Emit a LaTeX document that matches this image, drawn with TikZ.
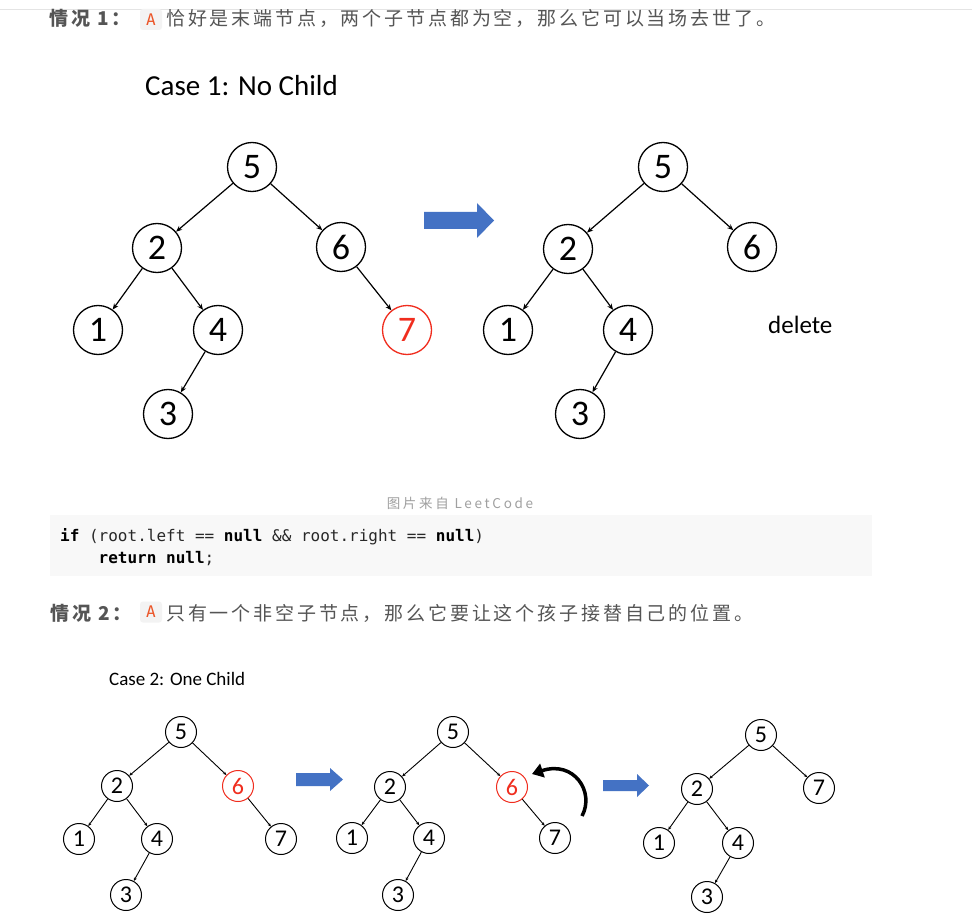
\documentclass[tikz,border=0pt]{standalone}
\usepackage{fontspec}
\setmainfont{Carlito}
\setmonofont{DejaVu Sans Mono}
\newfontfamily\cjk{Noto Sans CJK SC}[LetterSpace=15]
\newfontfamily\cjkcap{Noto Sans CJK SC}[LetterSpace=20]
\usetikzlibrary{arrows.meta}
\definecolor{nodered}{RGB}{240,45,30}
\definecolor{arrowblue}{RGB}{68,114,196}
\definecolor{headgray}{RGB}{85,85,85}
\definecolor{capgray}{RGB}{160,160,160}
\definecolor{codebg}{RGB}{248,248,248}
\definecolor{codefg}{RGB}{40,40,40}
\definecolor{tagred}{RGB}{235,85,40}
\definecolor{tagbg}{RGB}{243,243,243}
\definecolor{rulegray}{RGB}{228,228,228}
\begin{document}
\begin{tikzpicture}[x=1pt,y=-1pt,
  bignode/.style={circle,draw,line width=1.3pt,minimum size=49pt,inner sep=0pt,font=\fontsize{36}{36}\selectfont},
  smallnode/.style={circle,draw,line width=1pt,minimum size=31pt,inner sep=0pt,font=\fontsize{24}{24}\selectfont},
  rednode/.style={draw=nodered,text=nodered},
  bigedge/.style={line width=1.2pt,-{Stealth[length=6pt,width=5pt]}},
  smalledge/.style={line width=0.9pt,-{Stealth[length=3.5pt,width=3pt]}},
  blockarrow/.style={fill=arrowblue,draw=none},
  headtext/.style={anchor=base west,inner sep=0pt,text=headgray,font=\cjk\fontsize{19}{19}\selectfont},
  tag/.style={fill=tagbg,rounded corners=3pt,minimum width=22pt,minimum height=21pt,inner sep=0pt,text=tagred,font=\ttfamily\fontsize{16}{16}\selectfont},
  codetext/.style={anchor=base west,inner sep=0pt,text=codefg,font=\ttfamily\fontsize{16}{16}\selectfont},
  figtitle/.style={anchor=base west,inner sep=0pt,text=black}
]
\useasboundingbox (0,0) rectangle (972,920);
\fill[white] (0,0) rectangle (972,920);
\draw[rulegray,line width=1pt] (0,10) -- (972,10);

% ---------- header 1 ----------
\node[headtext] (h1a) at (49,26) {\bfseries 情况 1：};
\node[tag] (tag1) at (151,19.5) {A};
\node[headtext] (h1b) at (166,26) {恰好是末端节点，两个子节点都为空，那么它可以当场去世了。};

% ---------- case 1 ----------
\node[figtitle,font=\fontsize{29}{29}\selectfont] (t1) at (145,96) {Case 1: No Child};

\node[bignode] (a5) at (252,167) {5};
\node[bignode] (a2) at (157,248) {2};
\node[bignode] (a6) at (341,247) {6};
\node[bignode] (a1) at (98,330) {1};
\node[bignode] (a4) at (218,330) {4};
\node[bignode,rednode] (a7) at (407,330) {7};
\node[bignode] (a3) at (168,414) {3};
\draw[bigedge] (a5) -- (a2);
\draw[bigedge] (a5) -- (a6);
\draw[bigedge] (a2) -- (a1);
\draw[bigedge] (a2) -- (a4);
\draw[bigedge] (a6) -- (a7);
\draw[bigedge] (a4) -- (a3);

\fill[blockarrow] (424,212) -- (477,212) -- (477,203) -- (494,220.5) -- (477,238) -- (477,229) -- (424,229) -- cycle;

\node[bignode] (b5) at (663,167) {5};
\node[bignode] (b2) at (568,249) {2};
\node[bignode] (b6) at (752,247) {6};
\node[bignode] (b1) at (508,330) {1};
\node[bignode] (b4) at (628,330) {4};
\node[bignode] (b3) at (580,414) {3};
\draw[bigedge] (b5) -- (b2);
\draw[bigedge] (b5) -- (b6);
\draw[bigedge] (b2) -- (b1);
\draw[bigedge] (b2) -- (b4);
\draw[bigedge] (b4) -- (b3);
\node[figtitle,font=\fontsize{25}{25}\selectfont] (del) at (768,333) {delete};

\node[anchor=base,inner sep=0pt,text=capgray,font=\cjkcap\fontsize{13.5}{13.5}\selectfont] (cap) at (460,508) {图片来自 LeetCode};

% ---------- code ----------
\fill[codebg] (50,515) rectangle (872,576);
\node[codetext] (c1) at (60,541) {\textbf{\color{black}if} (root.left == \textbf{\color{black}null} \&\& root.right == \textbf{\color{black}null})};
\node[codetext] (c2) at (98.5,563) {\textbf{\color{black}return null};};

% ---------- header 2 ----------
\node[headtext] (h2a) at (50,620) {\bfseries 情况 2：};
\node[tag] (tag2) at (151,612) {A};
\node[headtext] (h2b) at (166,620) {只有一个非空子节点，那么它要让这个孩子接替自己的位置。};

% ---------- case 2 ----------
\node[figtitle,font=\fontsize{19}{19}\selectfont] (t2) at (109,685) {Case 2: One Child};

\node[smallnode] (p5) at (181,732) {5};
\node[smallnode] (p2) at (117,786) {2};
\node[smallnode,rednode] (p6) at (238,786) {6};
\node[smallnode] (p1) at (79,839) {1};
\node[smallnode] (p4) at (157,839) {4};
\node[smallnode] (p7) at (281,839) {7};
\node[smallnode] (p3) at (126,895) {3};
\draw[smalledge] (p5) -- (p2);
\draw[smalledge] (p5) -- (p6);
\draw[smalledge] (p2) -- (p1);
\draw[smalledge] (p2) -- (p4);
\draw[smalledge] (p6) -- (p7);
\draw[smalledge] (p4) -- (p3);

\fill[blockarrow] (296,773) -- (330,773) -- (330,768) -- (343,779.5) -- (330,791) -- (330,786) -- (296,786) -- cycle;

\node[smallnode] (q5) at (453,732) {5};
\node[smallnode] (q2) at (390,787) {2};
\node[smallnode,rednode] (q6) at (512,787) {6};
\node[smallnode] (q1) at (352,838) {1};
\node[smallnode] (q4) at (429,838) {4};
\node[smallnode] (q7) at (555,838) {7};
\node[smallnode] (q3) at (398,895) {3};
\draw[smalledge] (q5) -- (q2);
\draw[smalledge] (q5) -- (q6);
\draw[smalledge] (q2) -- (q1);
\draw[smalledge] (q2) -- (q4);
\draw[smalledge] (q6) -- (q7);
\draw[smalledge] (q4) -- (q3);
\coordinate (curvestart) at (582,816);
\coordinate (curveend) at (532,774);
\draw[line width=3.5pt,-{Triangle[length=11pt,width=14pt]}] (curvestart) .. controls (595,792) and (574,760) .. (curveend);

\fill[blockarrow] (603,780) -- (637,780) -- (637,774) -- (649,785.5) -- (637,797) -- (637,791) -- (603,791) -- cycle;

\node[smallnode] (r5) at (761,735) {5};
\node[smallnode] (r2) at (697,789) {2};
\node[smallnode] (r7) at (819,788) {7};
\node[smallnode] (r1) at (659,843) {1};
\node[smallnode] (r4) at (738,843) {4};
\node[smallnode] (r3) at (707,897) {3};
\draw[smalledge] (r5) -- (r2);
\draw[smalledge] (r5) -- (r7);
\draw[smalledge] (r2) -- (r1);
\draw[smalledge] (r2) -- (r4);
\draw[smalledge] (r4) -- (r3);
\end{tikzpicture}
\end{document}
